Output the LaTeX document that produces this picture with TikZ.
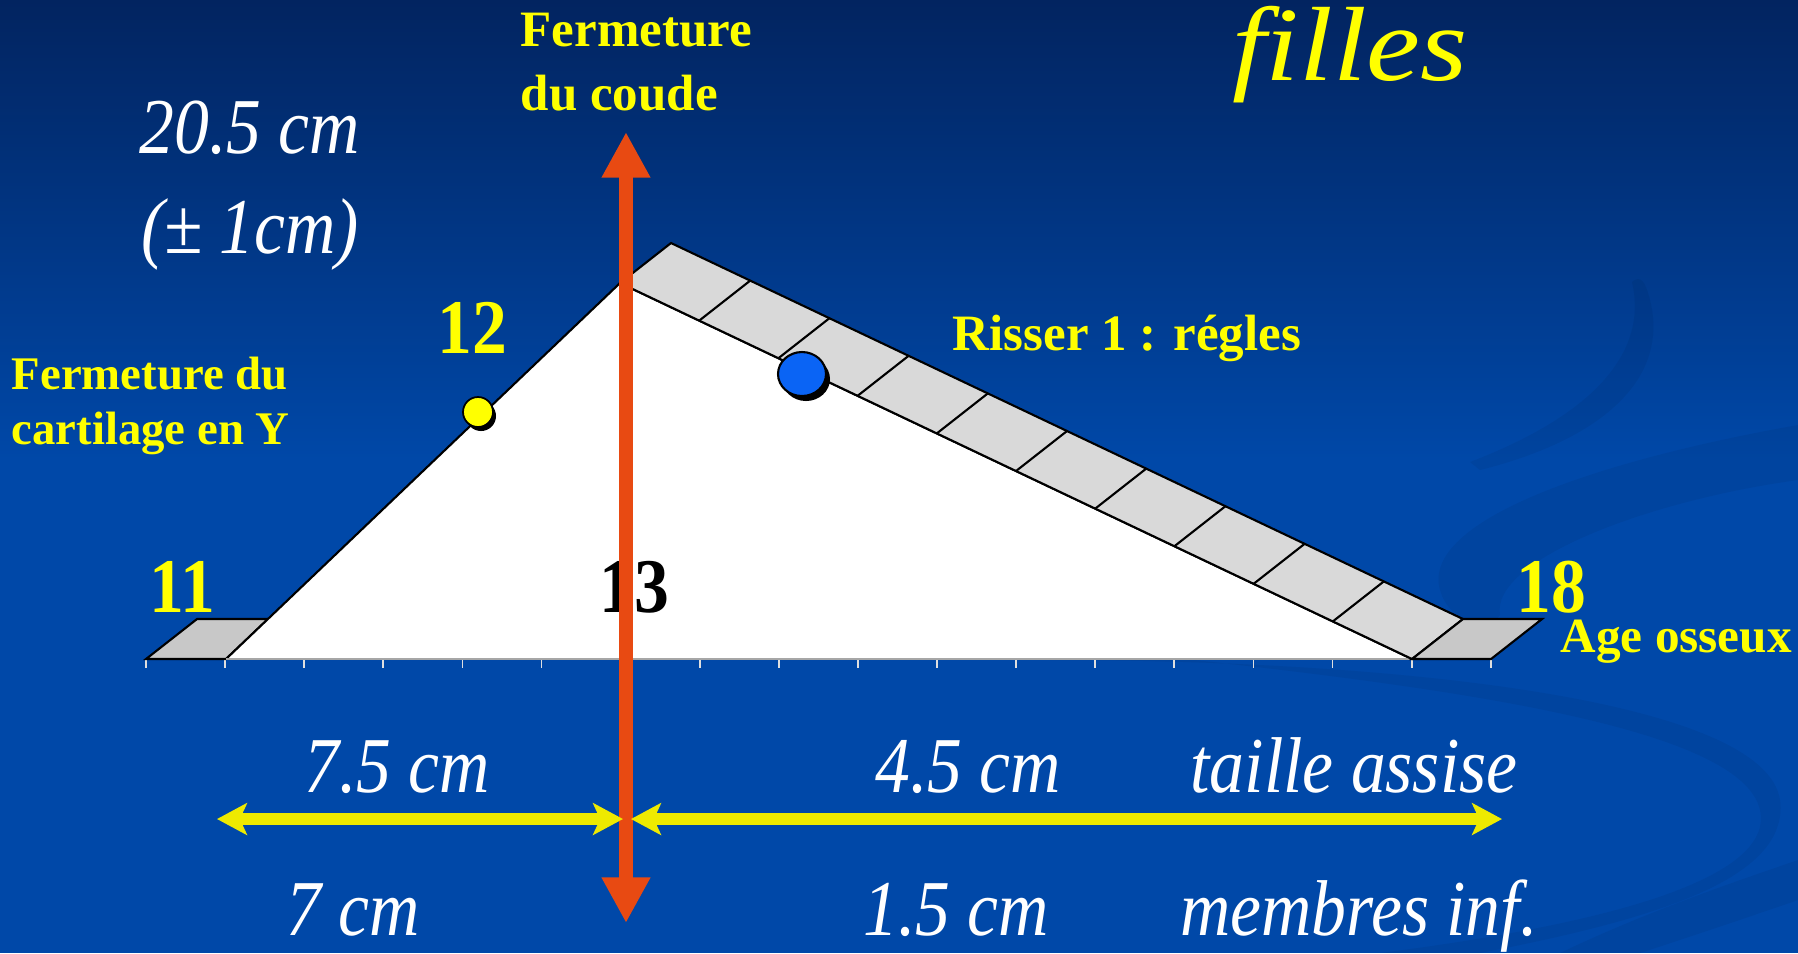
\documentclass[tikz,border=0pt]{standalone}
\usepackage{fontspec}
\setmainfont{Liberation Serif}
\newfontfamily\stretchit{Liberation Serif}[FakeStretch=0.88]
\newfontfamily\agefont{Liberation Serif}[FakeStretch=0.9]
\newfontfamily\titlefont{Liberation Serif}[FakeStretch=1.15]
\usetikzlibrary{arrows.meta}
\definecolor{bgtop}{RGB}{2,36,96}
\definecolor{bgblue}{RGB}{0,72,168}
\definecolor{labyellow}{RGB}{255,255,0}
\definecolor{coudered}{RGB}{232,74,18}
\definecolor{spanyellow}{RGB}{238,234,0}
\definecolor{risserblue}{RGB}{10,100,245}
\definecolor{rulergray}{RGB}{217,217,217}
\definecolor{padgray}{RGB}{200,200,200}

\begin{document}
\begin{tikzpicture}[
    x=0.01cm, y=-0.01cm,
    yellowlab/.style={text=labyellow, font=\bfseries\fontsize{14.5}{18.2}\selectfont, inner sep=0pt, align=left},
    agenum/.style={text=labyellow, font=\agefont\bfseries\fontsize{22}{26}\selectfont, inner sep=0pt},
    measure/.style={text=white, font=\stretchit\itshape\fontsize{22.5}{28.45}\selectfont, inner sep=0pt, align=center},
    coude/.style={{Triangle[length=13pt, width=13pt]}-{Triangle[length=13pt, width=13pt]}, line width=4pt, draw=coudered},
    spanarrow/.style={{Stealth[length=8.5pt, width=9pt, inset=2pt]}-{Stealth[length=8.5pt, width=9pt, inset=2pt]}, line width=3.4pt, draw=spanyellow},
    wedgeline/.style={draw=black, line width=0.6pt, line join=miter},
    swirl/.style={fill=black, opacity=0.05}
]
\useasboundingbox (0,0) rectangle (1798,953);
\shade[top color=bgtop, bottom color=bgblue] (0,0) rectangle (1798,460);
\fill[bgblue] (0,459) rectangle (1798,953);

\fill[swirl] (1480,470) .. controls (1600,440) and (1670,380) .. (1650,300) .. controls (1645,280) and (1640,275) .. (1632,282) .. controls (1650,360) and (1580,420) .. (1470,462) -- cycle;
\fill[swirl] (1798,425) .. controls (1600,460) and (1420,520) .. (1440,590) .. controls (1450,625) and (1490,630) .. (1500,615) .. controls (1490,560) and (1650,500) .. (1798,480) -- cycle;
\fill[swirl] (1050,645) .. controls (1400,680) and (1740,720) .. (1760,810) .. controls (1775,880) and (1600,925) .. (1380,953) -- (1480,953) .. controls (1650,920) and (1790,880) .. (1780,800) .. controls (1765,700) and (1400,660) .. (1050,660) -- cycle;
\fill[swirl] (1560,953) .. controls (1650,910) and (1740,880) .. (1798,860) -- (1798,900) .. controls (1740,920) and (1680,940) .. (1640,953) -- cycle;

\coordinate (padL) at (146,659);
\coordinate (footL) at (226,659);
\coordinate (apex) at (620,283);
\coordinate (footR) at (1412,659);
\coordinate (padR) at (1491,659);

\foreach \t in {0,...,17}
    \draw[white!75!gray, line width=0.5pt] ({146+79.1*\t},659) -- ++(0,9);

\filldraw[fill=padgray, wedgeline] (padL) -- (footL) -- (268,619) -- (197,619) -- cycle;
\fill[white] (footL) -- (apex) -- (footR) -- cycle;
\draw[wedgeline] (footL) -- (apex) -- (footR);
\draw[gray!70, line width=0.8pt] (footL) -- (footR);
\filldraw[fill=rulergray, wedgeline] (apex) -- (footR) -- ++(51,-40) -- (671,243) -- cycle;
\foreach \k in {1,...,9}
    \draw[wedgeline] ({620+79.2*\k},{283+37.6*\k}) -- ++(51,-40);
\filldraw[fill=rulergray!92!black, wedgeline] (footR) -- (padR) -- (1542,619) -- (1463,619) -- cycle;

\fill[black] (481,416) circle (15);
\filldraw[fill=labyellow, draw=black, line width=0.5pt] (478,412) circle (15);
\fill[black] (806,379) ellipse [x radius=24, y radius=22];
\filldraw[fill=risserblue, draw=black, line width=0.6pt] (802,374) ellipse [x radius=24, y radius=22];

\node[text=labyellow, font=\titlefont\itshape\fontsize{30}{34}\selectfont, inner sep=0pt, anchor=base] (titre) at (1350,80) {filles};
\node[yellowlab, anchor=north west] (coudelab) at (520,12) {Fermeture\\du coude};
\node[measure, anchor=north] (ecart) at (250,100) {20.5 cm\\(± 1cm)};
\node[yellowlab, font=\bfseries\fontsize{13.3}{15.6}\selectfont, anchor=north west] (cartlab) at (11,356) {Fermeture du\\cartilage en Y};
\node[yellowlab, anchor=base west] (risser) at (952,350) {Risser 1 : régles};
\node[yellowlab, font=\bfseries\fontsize{14}{16}\selectfont, anchor=base west] (ageos) at (1560,652) {Age osseux};

\node[agenum, anchor=base] (age11) at (182,612) {11};
\node[agenum, anchor=base] (age12) at (472,353) {12};
\node[agenum, text=black, anchor=base] (age13) at (634,612) {13};
\node[agenum, anchor=base] (age18) at (1551,612) {18};

\node[measure, anchor=base] (haut1) at (397,792) {7.5 cm};
\node[measure, anchor=base] (haut2) at (968,792) {4.5 cm};
\node[measure, anchor=base] (assise) at (1354,792) {taille assise};
\node[measure, anchor=base] (bas1) at (353,935) {7 cm};
\node[measure, anchor=base] (bas2) at (956,935) {1.5 cm};
\node[measure, anchor=base] (membres) at (1359,935) {membres inf.};

\coordinate (coudetop) at (626,132);
\coordinate (coudebot) at (626,923);
\coordinate (spanLa) at (217,819);
\coordinate (spanLb) at (623,819);
\coordinate (spanRa) at (631,819);
\coordinate (spanRb) at (1502,819);

\draw[coude] (coudetop) -- (coudebot);
\draw[spanarrow] (spanLa) -- (spanLb);
\draw[spanarrow] (spanRa) -- (spanRb);

\end{tikzpicture}
\end{document}
